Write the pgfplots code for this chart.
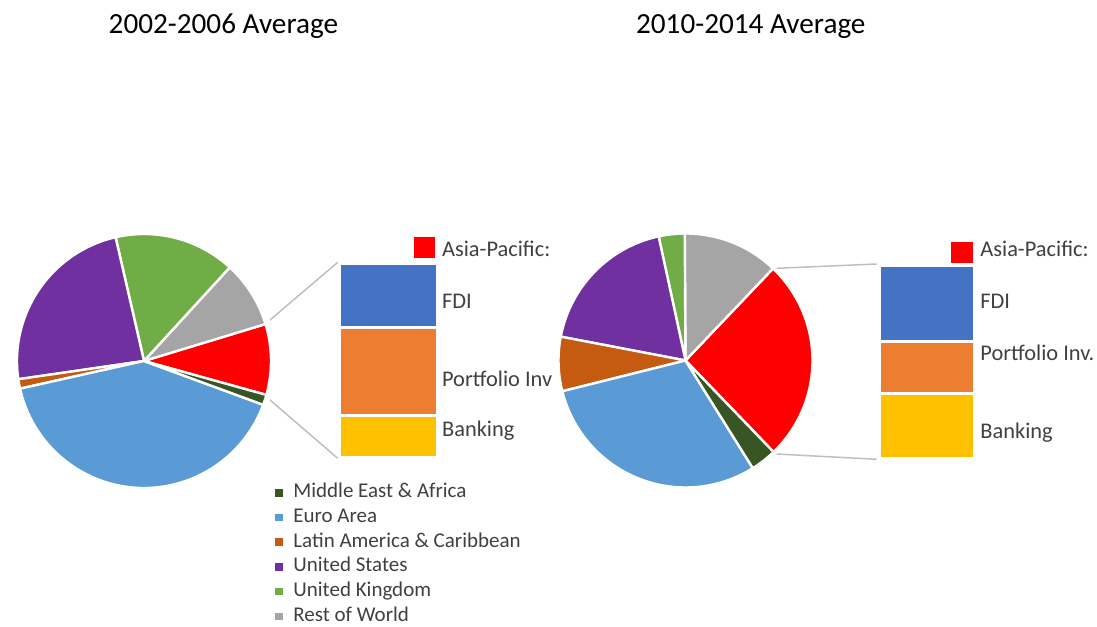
\documentclass[border=0pt]{standalone}
\usepackage{fontspec}
\setmainfont{Carlito}
\usepackage{pgfplots}
\pgfplotsset{compat=1.18}
\definecolor{cRed}{HTML}{FF0000}
\definecolor{cMEA}{HTML}{375623}
\definecolor{cEuro}{HTML}{5B9BD5}
\definecolor{cLat}{HTML}{C55A11}
\definecolor{cUS}{HTML}{7030A0}
\definecolor{cUK}{HTML}{70AD47}
\definecolor{cRoW}{HTML}{A5A5A5}
\definecolor{cFDI}{HTML}{4472C4}
\definecolor{cPort}{HTML}{ED7D31}
\definecolor{cBank}{HTML}{FFC000}
\definecolor{cLine}{HTML}{BFBFBF}
\definecolor{cText}{HTML}{404040}

% pie wedges: center coordinate, start angle, list value/colour (percent), counter-clockwise
\newcommand\drawpie[3]{%
  \xdef\angA{#2}%
  \foreach \v/\c in {#3}{%
    \pgfmathsetmacro\angB{\angA+3.6*\v}%
    \fill[\c, draw=white, line width=1.2pt, line join=round] (#1) -- ++(\angA:63.5pt)
      arc[start angle=\angA, end angle=\angB, radius=63.5pt] -- cycle;
    \global\let\angA\angB
  }}

\begin{document}
\begin{tikzpicture}
\begin{axis}[
  x=0.5pt, y=0.5pt, y dir=reverse,
  xmin=0, xmax=1097, ymin=0, ymax=623,
  hide axis, clip=false,
  legend image code/.code={\fill[#1] (0pt,-1.65pt) rectangle (3.3pt,1.65pt);},
  legend cell align=left,
  legend style={at={(0.2507,0.2258)}, anchor=north west, draw=none, fill=none,
    inner sep=0pt, row sep=2.35pt,
    font=\fontsize{10.5}{12}\selectfont, text=cText,
    nodes={inner sep=0pt, text height=7.5pt, text depth=2.5pt},
    /tikz/every odd column/.append style={column sep=5.3pt}},
]
\path (axis cs:0,0) rectangle (axis cs:1097,623);
\addlegendimage{cMEA}  \addlegendentry{Middle East \& Africa}
\addlegendimage{cEuro} \addlegendentry{Euro Area}
\addlegendimage{cLat}  \addlegendentry{Latin America \& Caribbean}
\addlegendimage{cUS}   \addlegendentry{United States}
\addlegendimage{cUK}   \addlegendentry{United Kingdom}
\addlegendimage{cRoW}  \addlegendentry{Rest of World}

\coordinate (C1) at (axis cs:144,361);
\coordinate (C2) at (axis cs:685.5,360.5);
\coordinate (LB) at (axis cs:339.1,457.3);
\coordinate (RB) at (axis cs:879.1,459.0);

% titles
\node[anchor=base west, inner sep=0pt, font=\fontsize{14.6}{17}\selectfont] at (axis cs:108.3,33.3) {2002-2006 Average};
\node[anchor=base west, inner sep=0pt, font=\fontsize{14.6}{17}\selectfont] at (axis cs:635.7,33.3) {2010-2014 Average};

% connector lines
\draw[cLine, line width=0.75pt] (axis cs:270,320) -- (axis cs:337.7,262.3);
\draw[cLine, line width=0.75pt] (axis cs:270,400) -- (axis cs:337.7,458.3);
\draw[cLine, line width=0.75pt] (axis cs:776.7,268.3) -- (axis cs:876.7,264);
\draw[cLine, line width=0.75pt] (axis cs:776.7,454) -- (axis cs:876.7,459.3);

% data labels
\begin{scope}[every node/.style={anchor=base west, inner sep=0pt, font=\fontsize{11.2}{13}\selectfont, text=cText}]
\node at (axis cs:413.3,256.7) {\textcolor{cRed}{\raisebox{-0.8pt}{\rule{10.85pt}{10.5pt}}}\hspace{3.35pt}Asia-Pacific:};
\node at (axis cs:441.7,309) {FDI};
\node at (axis cs:441.7,386.7) {Portfolio Inv};
\node at (axis cs:441.7,436.7) {Banking};
\node at (axis cs:950.7,256.7) {\textcolor{cRed}{\raisebox{-3.3pt}{\rule{10.8pt}{10.8pt}}}\hspace{3.85pt}Asia-Pacific:};
\node at (axis cs:980,309) {FDI};
\node at (axis cs:980,361) {Portfolio Inv.};
\node at (axis cs:980,438.3) {Banking};
\end{scope}
\end{axis}

% 2002-2006 pie: Asia-Pacific, Rest of World, UK, US, Latin America, Euro Area, Middle East & Africa
\drawpie{C1}{-15.5}{9.0/cRed, 8.5/cRoW, 15.4/cUK, 23.7/cUS, 1.2/cLat, 40.9/cEuro, 1.3/cMEA}
% 2010-2014 pie
\drawpie{C2}{-46.1}{25.7/cRed, 12.2/cRoW, 3.3/cUK, 18.6/cUS, 6.9/cLat, 30.0/cEuro, 3.3/cMEA}

% Asia-Pacific breakdown bars 2002-2006
\begin{axis}[at={(LB)}, anchor=south west, scale only axis, hide axis,
  width=49.1pt, height=96.95pt, xmin=-0.5, xmax=0.5, ymin=0, ymax=100,
  ybar stacked, bar width=1, clip=false,
  every axis plot/.append style={draw=white, line width=1.6pt}]
\addplot[fill=cBank] coordinates {(0,21.7)};
\addplot[fill=cPort] coordinates {(0,45.3)};
\addplot[fill=cFDI]  coordinates {(0,33.0)};
\end{axis}

% Asia-Pacific breakdown bars 2010-2014
\begin{axis}[at={(RB)}, anchor=south west, scale only axis, hide axis,
  width=47.6pt, height=96.65pt, xmin=-0.5, xmax=0.5, ymin=0, ymax=100,
  ybar stacked, bar width=1, clip=false,
  every axis plot/.append style={draw=white, line width=1.6pt}]
\addplot[fill=cBank] coordinates {(0,33.8)};
\addplot[fill=cPort] coordinates {(0,27.1)};
\addplot[fill=cFDI]  coordinates {(0,39.1)};
\end{axis}
\end{tikzpicture}
\end{document}
